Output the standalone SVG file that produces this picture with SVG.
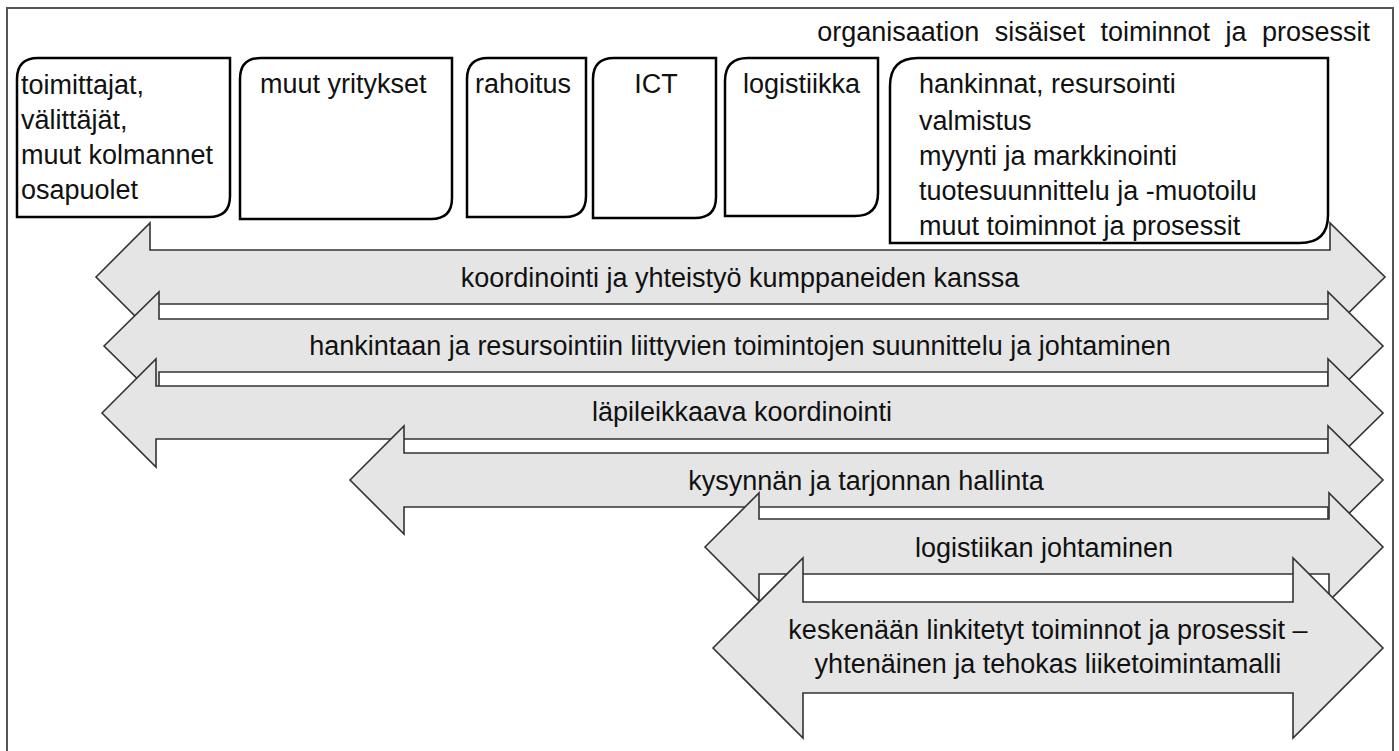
<svg xmlns="http://www.w3.org/2000/svg" width="1399" height="751" viewBox="0 0 1399 751">
<style>
.frame{fill:#ffffff;stroke:#555555;stroke-width:2}
.box{fill:#ffffff;stroke:#000000;stroke-width:2.5}
.arr{fill:#e5e5e5;stroke:#333333;stroke-width:1.6;stroke-linejoin:miter}
.t{font-family:"Liberation Sans",Arial,sans-serif;font-size:27px;fill:#111111}
.c{text-anchor:middle}
</style>
<rect class="frame" x="7" y="8" width="1386" height="770"/>
<text id="title" class="t" x="1370" y="41" text-anchor="end" font-size="28" word-spacing="8">organisaation sisäiset toiminnot ja prosessit</text>

<g id="connectors">
  <g id="arrow1">
    <polygon class="arr" points="96,277 150,223 150,250 1330,250 1330,223 1385,277 1330,331 1330,304 150,304 150,331"/>
    <text class="t c" x="740" y="287">koordinointi ja yhteistyö kumppaneiden kanssa</text>
  </g>
  <g id="arrow2">
    <polygon class="arr" points="104,346 159,292 159,319 1328,319 1328,292 1383,346 1328,400 1328,372 159,372 159,400"/>
    <text class="t c" x="740" y="355">hankintaan ja resursointiin liittyvien toimintojen suunnittelu ja johtaminen</text>
  </g>
  <g id="arrow3">
    <polygon class="arr" points="102,413 156,359 156,386 1328,386 1328,359 1383,413 1328,467 1328,439 156,439 156,467"/>
    <text class="t c" x="742" y="421">läpileikkaava koordinointi</text>
  </g>
  <g id="arrow4">
    <polygon class="arr" points="350,480 404,426 404,453 1328,453 1328,426 1383,480 1328,534 1328,507 404,507 404,534"/>
    <text class="t c" x="866" y="490">kysynnän ja tarjonnan hallinta</text>
  </g>
  <g id="arrow5">
    <polygon class="arr" points="705,547 759,493 759,519 1329,519 1329,493 1383,547 1329,601 1329,574 759,574 759,601"/>
    <text class="t c" x="1044" y="557">logistiikan johtaminen</text>
  </g>
  <g id="arrow6">
    <polygon class="arr" points="713,648 803,558 803,602 1293,602 1293,558 1383,648 1293,738 1293,693 803,693 803,738"/>
    <text class="t c" x="1048" y="639">keskenään linkitetyt toiminnot ja prosessit –</text>
    <text class="t c" x="1048" y="673">yhtenäinen ja tehokas liiketoimintamalli</text>
  </g>
</g>

<g id="box1">
  <path class="box" d="M17,217 L17,79 Q17,58 38,58 L230,58 L230,196 Q230,217 209,217 Z"/>
  <text class="t" x="21" y="94">toimittajat,</text>
  <text class="t" x="21" y="129">välittäjät,</text>
  <text class="t" x="21" y="164">muut kolmannet</text>
  <text class="t" x="21" y="199">osapuolet</text>
</g>
<g id="box2">
  <path class="box" d="M240,219 L240,79 Q240,58 261,58 L452,58 L452,198 Q452,219 431,219 Z"/>
  <text class="t" x="260" y="93">muut yritykset</text>
</g>
<g id="box3">
  <path class="box" d="M467,217 L467,79 Q467,58 488,58 L586,58 L586,196 Q586,217 565,217 Z"/>
  <text class="t" x="475" y="93">rahoitus</text>
</g>
<g id="box4">
  <path class="box" d="M593,218 L593,79 Q593,58 614,58 L716,58 L716,197 Q716,218 695,218 Z"/>
  <text class="t c" x="656" y="93">ICT</text>
</g>
<g id="box5">
  <path class="box" d="M725,216 L725,81 Q725,58 748,58 L878,58 L878,193 Q878,216 855,216 Z"/>
  <text class="t" x="743" y="93">logistiikka</text>
</g>
<g id="box6">
  <path class="box" d="M890,243 L890,86 Q890,58 918,58 L1328,58 L1328,215 Q1328,243 1300,243 Z"/>
  <text class="t" x="919" y="93">hankinnat, resursointi</text>
  <text class="t" x="919" y="130">valmistus</text>
  <text class="t" x="919" y="165">myynti ja markkinointi</text>
  <text class="t" x="919" y="200">tuotesuunnittelu ja -muotoilu</text>
  <text class="t" x="919" y="235">muut toiminnot ja prosessit</text>
</g>
</svg>
